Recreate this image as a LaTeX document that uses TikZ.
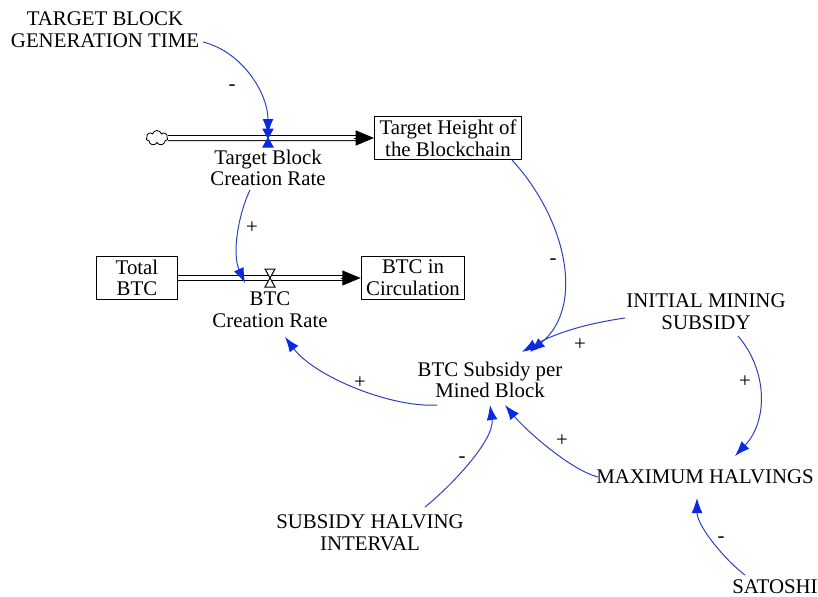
\documentclass[tikz,border=0pt]{standalone}
\usepackage{fontspec}
\setmainfont{Liberation Serif}
\usetikzlibrary{arrows.meta,shapes.symbols,calc}

\definecolor{linkblue}{RGB}{45,65,190}
\definecolor{tipblue}{RGB}{10,40,230}

\tikzset{
  var/.style={align=center, font=\fontsize{12.5}{13}\selectfont, inner sep=1pt},
  stock/.style={var, draw, line width=0.6pt, inner xsep=3pt, inner ysep=2pt},
  link/.style={draw=linkblue, line width=0.6pt, -{Latex[length=9pt,width=6.5pt,color=tipblue]}},
  pipe/.style={double, double distance=2.4pt, line width=0.6pt},
  sign/.style={font=\fontsize{12.5}{13}\selectfont, inner sep=0pt},
}

% hourglass valve on a flow pipe
\newcommand{\drawvalve}[3]{%
  \draw[line width=0.6pt, draw=#2, fill=#3] ($(#1)+(-5,-9)$) -- ($(#1)+(5,-9)$)
    -- ($(#1)+(-5,9)$) -- ($(#1)+(5,9)$) -- cycle;}

\begin{document}
\begin{tikzpicture}[x=0.6pt,y=-0.6pt]
  \useasboundingbox (0,0) rectangle (818,596);

  % Stocks
  \node[stock] (tgtheight) at (448,138) {Target Height of\\the Blockchain};
  \node[stock, minimum width=49pt] (total) at (137,278) {Total\\BTC};
  \node[stock] (circ) at (413,278) {BTC in\\Circulation};

  % Source cloud
  \node[cloud, draw, cloud puffs=7, minimum width=13pt, minimum height=9pt,
        inner sep=0pt, line width=0.5pt] (src) at (157,138) {};

  % Flow pipes
  \coordinate (v1) at (268,138);
  \coordinate (v2) at (270,278);
  \draw[pipe, shorten >=9pt] (src.east) -- (tgtheight.west);
  \draw[-{Triangle[length=11pt,width=9pt]}, line width=0.6pt]
    ($(tgtheight.west)+(-20,0)$) -- (tgtheight.west);
  \draw[pipe, shorten >=9pt] (total.east) -- (circ.west);
  \draw[-{Triangle[length=11pt,width=9pt]}, line width=0.6pt]
    ($(circ.west)+(-20,0)$) -- (circ.west);

  % Auxiliaries and rates
  \node[var] (gen) at (105,30) {TARGET BLOCK\\GENERATION TIME};
  \node[var] (tgtrate) at (268,168) {Target Block\\Creation Rate};
  \node[var] (btcrate) at (270,310) {BTC\\Creation Rate};
  \node[var] (subsidy) at (490,380) {BTC Subsidy per\\Mined Block};
  \node[var] (initial) at (706,312) {INITIAL MINING\\SUBSIDY};
  \node[var] (maxhalv) at (705,477) {MAXIMUM HALVINGS};
  \node[var] (interval) at (370,533) {SUBSIDY HALVING\\INTERVAL};
  \node[var] (satoshi) at (775,587) {SATOSHI};

  % Links
  \draw[link] ($(gen)+(98,12)$) .. controls +(40,10) and +(0,-40) .. ($(v1)+(0,-4)$);
  \draw[link] ($(tgtheight)+(64,22)$) .. controls +(55,60) and +(55,-45) .. ($(subsidy)+(40,-28)$);
  \draw[link] ($(tgtrate)+(-18,22)$) .. controls +(-12,25) and +(-13,-29) .. ($(btcrate)+(-25,-27)$);
  \draw[link] ($(subsidy)+(-53,25)$) .. controls +(-45,3) and +(30,40) .. ($(btcrate)+(15,27)$);
  \draw[link] ($(initial)+(-81,6)$) .. controls +(-35,5) and +(35,-20) .. ($(subsidy)+(32,-28)$);
  \draw[link] ($(initial)+(32,24)$) .. controls +(30,35) and +(33,-35) .. ($(maxhalv)+(30,-21)$);
  \draw[link] ($(maxhalv)+(-107,0)$) .. controls +(-30,-8) and +(18,22) .. ($(subsidy)+(15,25)$);
  \draw[link] ($(interval)+(55,-26)$) .. controls +(25,-20) and +(5,35) .. ($(subsidy)+(0,25)$);
  \draw[link] ($(satoshi)+(-30,-12)$) .. controls +(-20,-15) and +(0,28) .. ($(maxhalv)+(-8,21)$);

  % Valves on top of the pipes
  \drawvalve{v1}{tipblue}{tipblue}
  \drawvalve{v2}{black}{white}

  % Polarities
  \node[sign] (p1) at (232,88) {-};
  \node[sign] (p2) at (553,262) {-};
  \node[sign] (p3) at (252,228) {+};
  \node[sign] (p4) at (360,383) {+};
  \node[sign] (p5) at (580,345) {+};
  \node[sign] (p6) at (745,382) {+};
  \node[sign] (p7) at (562,441) {+};
  \node[sign] (p8) at (462,460) {-};
  \node[sign] (p9) at (721,540) {-};
\end{tikzpicture}
\end{document}
